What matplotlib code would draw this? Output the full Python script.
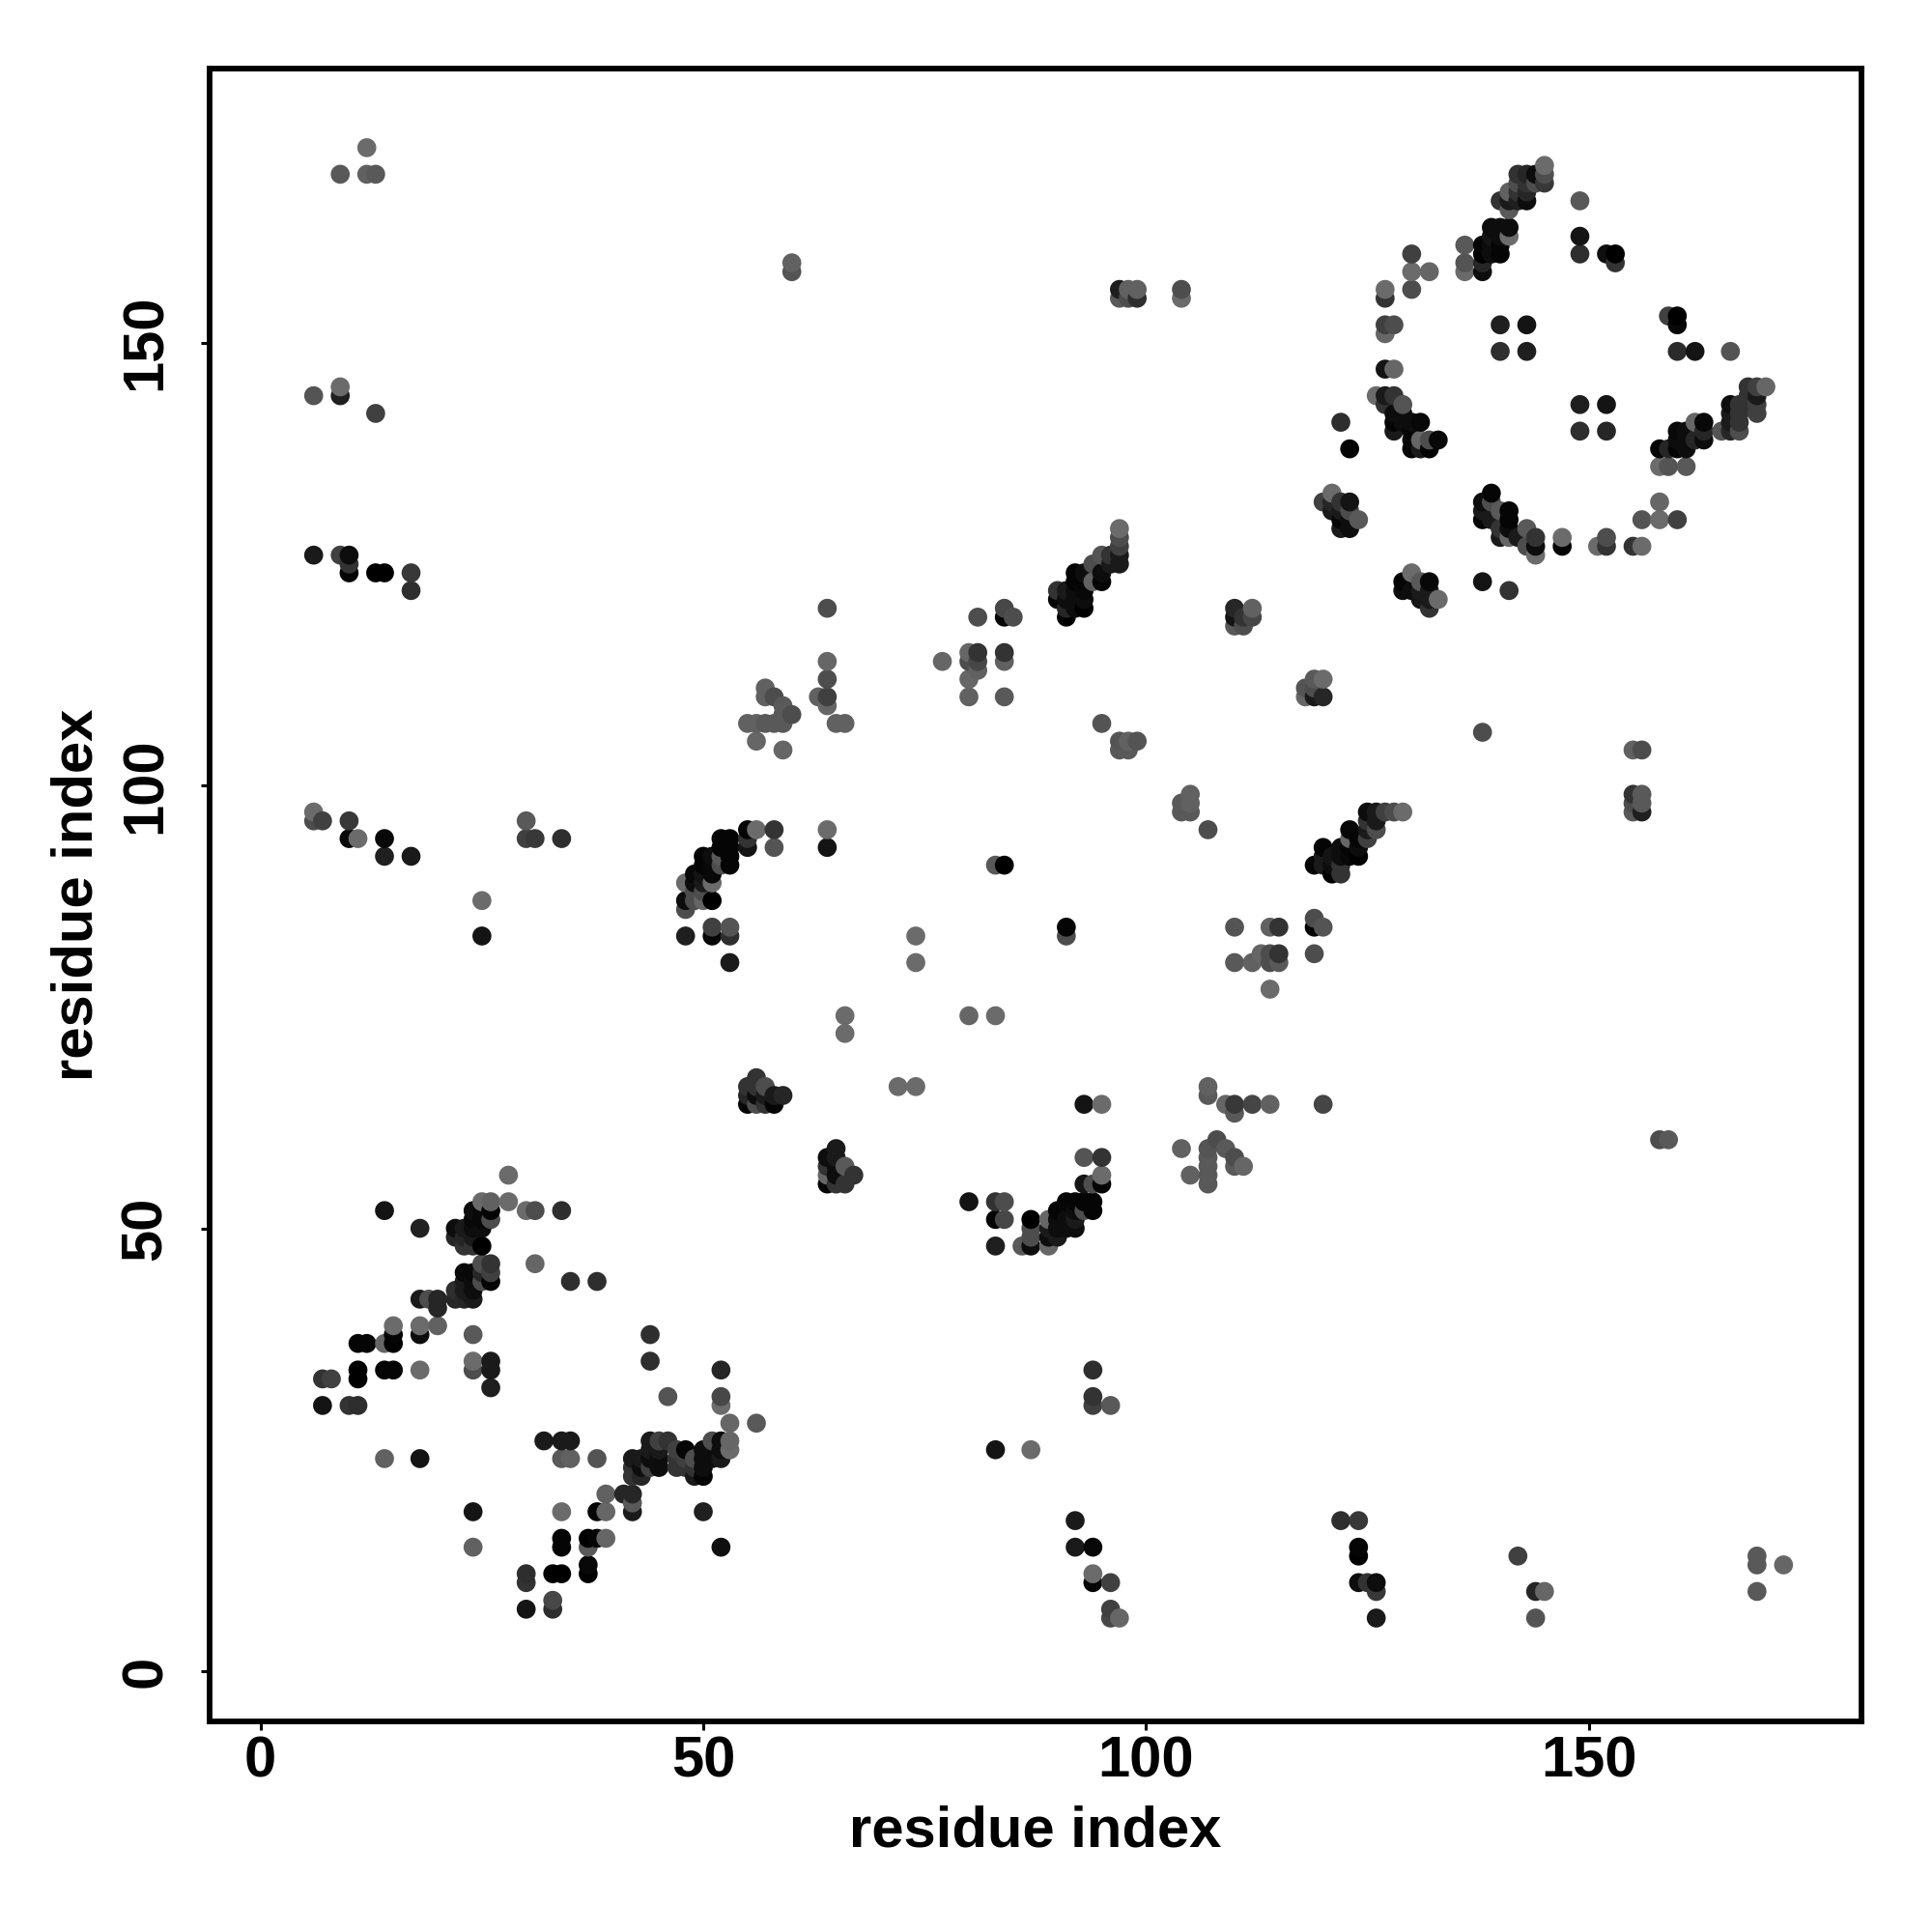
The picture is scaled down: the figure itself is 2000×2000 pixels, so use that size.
import numpy as np
import matplotlib
matplotlib.use("Agg")
import matplotlib.pyplot as plt

# Each region: row y values, x values in each row, grey level (0=black, 1=white) of each point
low_left_y = [56,53,52,51,50,49,48,46,45,44,43,42,41,39,38,37,35,34,33,32,31,30,28,26,25,24,23,22,20,19,18,15,14,12,11,10,8,7]
low_left_x = [[28],[25,26,28],[14,24,25,26,30,31,34],[24,25,26],[18,22,23,24,25],[22,23,24],[23,24,25],[25,26,31],[23,24,25,26],
 [23,24,25,26,35,38],[22,23,24],[18,19,20,22,23,24],[20],[15,18,20],[15,18,24,44],[11,12,14,15],[24,26,44],[11,14,15,18,24,26,52],
 [7,8,11],[26],[46,52],[7,10,11,52],[53,56],[32,34,35,44,45,46,51,52,53],[44,45,47,48,50,51,52,53],
 [14,18,34,35,38,42,43,44,45,47,48,49,50,51,52],[42,43,44,45,47,48,49,50],[42,43,49,50],[39,41,42],[42],[24,34,38,39,42,50],
 [34,37,38,39],[24,34,37,52],[37],[30,33,34,37],[30],[33],[30,33]]
low_left_g = [[.42],[.42,.38,.42],[.08,.05,.03,.02,.42,.3,.18],[.03,.03,.3],[.13,.05,.1,.05,.05],[.15,.15,.1],[.2,.2,.0],[.3,.2,.4],[.03,.03,.15,.25],
 [.1,.05,.3,.02,.18,.18],[.18,.1,.05],[.1,.3,.15,.15,.15,.1],[.15],[.42,.42,.38],[.02,.05,.35,.18],[.02,.02,.4,.0],[.42,.1,.18],[.0,.02,.02,.42,.3,.1,.15],
 [.2,.25,.0],[.12],[.33,.28],[.08,.2,.18,.42],[.4,.35],[.1,.1,.1,.1,.25,.2,.3,.05,.4],[.1,.1,.25,.02,.05,.05,.05,.42],
 [.38,.08,.35,.38,.33,.1,.1,.05,.05,.2,.25,.3,.05,.05,.1],[.2,.05,.25,.05,.2,.2,.2,.05],[.2,.15,.1,.02],[.38,.15,.15],[.35],[.08,.42,.02,.4,.1,.12],
 [.02,.0,.02,.4],[.38,.02,.35,.06],[.03],[.18,.0,.0,.0],[.2],[.28],[.08,.18]]

mid_y = [104,95,94,93,92,91,90,89,88,87,86,84,83,80,74,72,67,66,65,64,59,58,57,56,55,53,52,51,50,49,48]
mid_x = [[59],[55,56,58,64],[52,53,55],[52,53,55,58,64],[50,51,52,53],[50,51,52,53,83,84],[49,50,51],[48,49,50,51],[49,50],[48,49,50,51],[48],
 [51,53,91],[48,51,53,74,91],[53,74],[66,80,83],[66],[56],[55,56,57,72,74],[55,56,57,58,59],[55,56,57,58,93,95],[65],[64,65,93,95],[64,65,66],
 [64,65,67,95],[64,65,66,93,94,95],[80,83,84,91,92,93,94],[90,92,93,94],[83,84,87,89,90,91,92],[87,89,90,91,92],[87,89,90],[83,86,87,89]]
mid_g = [[.4],[.02,.42,.2,.42],[.02,.02,.2],[.02,.02,.08,.33,.08],[.02,.05,.35,.02],[.02,.03,.3,.02,.35,.0],[.03,.08,.03],[.42,.05,.1,.42],[.3,.3],[.05,.3,.4,.0],[.3],
 [.25,.33,.02],[.12,.02,.18,.42,.3],[.1,.42],[.42,.4,.42],[.42],[.2],[.2,.2,.3,.42,.42],[.15,.05,.1,.1,.15],[.02,.3,.2,.02,.08,.42],[.1],[.05,.1,.33,.2],[.2,.05,.35],
 [.4,.05,.2,.42],[.02,.2,.2,.08,.3,.02],[.08,.2,.3,.02,.02,.02,.02],[.02,.05,.3,.02],[.02,.28,.0,.4,.05,.05,.1],[.3,.1,.05,.05,.05],[.3,.05,.1],[.12,.35,.05,.4]]

centre_y = [133,132,131,130,129,128,127,126,125,124,123,122,121,120,119,118,112,111,110,107,106,105,104,99,98,97,96,95,94,93,92,91,90,85,84,81,80,77,141]
centre_x = [[121,139],[120,121,122,123,138,139],[121,122,123,138,140,141],[122,123,124,138,139,141],[97,122,123,140,141,143],[97,140,141,142,144,147],[97,143,144,147],
 [95,96,97,144],[94,96,97],[92,93,95,130],[92,93,94,95,129,131,132,138],[90,91,92,93,129,130,131,132,141],[90,91,92,93,131,132,133],[91,92,93,110,112,132],
 [81,84,85,91,110,111,112],[110,111],[119,120],[118,119],[118,119,120],[95],[138],[97,98,99],[97,98,155,156],[105,155,156],[104,105,155,156],
 [104,105,125,126,127,128,129,155,156],[125,126],[107,123,125,126],[123,124,125],[120,122,123,124],[120,121,122,123,124],[119,120,121,122],[121,122],[119],
 [110,114,115,119,120],[113,114,115,119],[110,112,114,115],[114],[122]]
centre_g = [[.42,.02],[.25,.15,.2,.08,.05,.3],[.1,.1,.3,.1,.35,.02],[.02,.05,.35,.02,.1,.02],[.42,.1,.05,.2,.05,.35],[.3,.1,.4,.1,.2,.42],[.25,.3,.05,.02],
 [.33,.2,.1,.42],[.3,.1,.1],[.02,.05,.05,.42],[.02,.02,.38,.02,.02,.35,.03,.08],[.2,.1,.05,.03,.05,.05,.1,.1,.2],[.02,.05,.05,.05,.08,.1,.42],[.15,.05,.0,.15,.38,.2],
 [.3,.02,.3,.0,.08,.2,.28],[.35,.3],[.35,.42],[.33,.3],[.4,.1,.15],[.33],[.3],[.33,.38,.33],[.35,.35,.38,.3],[.38,.2,.35],[.35,.38,.3,.35],
 [.35,.35,.05,.1,.25,.3,.42,.35,.12],[.2,.1],[.3,.03,.1,.3],[.4,.02,.25],[.02,.05,.02,.05],[.1,.08,.05,.03,.0],[.02,.1,.05,.2],[.0,.2],[.3],
 [.33,.38,.2,.02,.33],[.4,.3,.2,.3],[.35,.38,.3,.35],[.42],[.18]]

upper_y = [170,169,168,167,166,165,163,162,161,160,159,158,156,155,153,152,151,149,147,145,144,143,142,141,140,139,138,136,132,130,128,127]
upper_x = [[145],[142,143,144,145],[142,143,144,145],[141,142,143],[140,141,142,143,149],[141],[139,140,141],[139,140,141,149],[136,138,139,140],
 [130,138,139,140,149,152,153],[136,138,153],[130,132,136,138],[127,130],[127],[159,160],[127,128,140,143,160],[127],[140,143,160,162,166],[127,128],
 [168,169,170],[126,127,128,168,169],[127,129,149,152,166,167,168,169],[128,129,166,167,169],[128,129,130,131,162,163,166,167],
 [128,130,149,152,160,161,163,165,166,167],[130,131,132,133,160,161,162,163],[123,130,131,132,158,159,160,161],[158,159,161],[158],[156,158,160],[152],[151,152,155,156]]
upper_g = [[.42],[.2,.15,.05,.3],[.3,.2,.3,.22],[.38,.2,.15],[.2,.1,.12,.05,.35],[.35],[.05,.05,.05],[.08,.05,.42,.08],[.35,.02,.05,.02],
 [.25,.0,.05,.02,.18,.06,.0],[.33,.15,.2],[.42,.4,.42,.05],[.42,.3],[.2],[.25,.0],[.25,.3,.12,.08,.03],[.4],[.18,.12,.17,.08,.33],[.08,.4],
 [.2,.25,.4],[.42,.1,.2,.2,.1],[.2,.33,.12,.08,.05,.2,.2,.25],[.05,.05,.1,.2,.25],[.02,.05,.05,.03,.4,.03,.1,.2],
 [.1,.02,.18,.15,.03,.05,.15,.33,.15,.3],[.03,.4,.3,.03,.05,.05,.15,.05],[.02,.02,.1,.02,.02,.15,.02,.05],[.42,.33,.35],[.4],[.33,.42,.25],[.3],[.42,.2,.2,.42]]

left_y = [172,169,145,144,142,126,125,124,122,97,96,94,92,87,83]
left_x = [[12],[9,12,13],[9],[6,9],[13],[6,9,10],[10],[10,13,14,17],[17],[6],[6,7,10,30],[10,11,14,30,31,34],[14,17],[25],[25]]
left_g = [[.42],[.35,.38,.35],[.42],[.33,.12],[.25],[.1,.25,.05],[.2],[.02,.0,.0,.22],[.18],[.42],[.3,.25,.22,.35],[.03,.42,.03,.25,.22,.18],[.12,.1],[.42],[.08]]

strip_y = [159,158,156,155,120,115,114,113,112,111,110,109,108,107,105]
strip_x = [[60],[60],[97,98,99,104],[97,98,99,104],[64,84],[80,81,84],[64,77,80,81,84],[81],[64,80],[57],[57,58,63,64,80,84],[59,64],[59,60],[55,56,57,58,59,65,66],[56]]
strip_g = [[.38],[.33],[.12,.38,.38,.3],[.35,.3,.18,.42],[.3,.28],[.4,.2,.2],[.4,.4,.3,.28,.38],[.38],[.3,.4],[.38],[.38,.3,.38,.25,.38,.35],[.35,.4],[.35,.3],[.38,.38,.35,.35,.35,.38,.38],[.4]]

bottom_y = [34,31,30,25,17,14,13,12,11,10,9,7,6,60]
bottom_x = [[94],[94],[94,96],[83,87],[92,122,124],[92,94,124],[124,142,169],[169,172],[94],[94,96,124,125,126],[126,144,145,169],[96],[96,97,126,144],[158,159]]
bottom_g = [[.18],[.2],[.25,.35],[.08,.42],[.1,.18,.22],[.1,.03,.02],[.0,.25,.35],[.35,.4],[.42],[.02,.25,.05,.2,.05],[.22,.15,.4,.35],[.25],[.28,.4,.1,.33],[.3,.35]]

lower_mid_y = [66,65,64,63,60,59,58,57,56,55]
lower_mid_x = [[107],[107],[109,110,112,114,120],[110],[108],[104,107,109],[107,110],[107,110,111],[105,107],[107]]
lower_mid_g = [[.38],[.35],[.4,.22,.27,.38,.27],[.35],[.3],[.38,.33,.35],[.35,.3],[.35,.35,.4],[.38,.35],[.35]]

tick_values = [0, 50, 100, 150]
axis_title = "residue index"

regions = [(low_left_y, low_left_x, low_left_g), (mid_y, mid_x, mid_g), (centre_y, centre_x, centre_g),
           (upper_y, upper_x, upper_g), (left_y, left_x, left_g), (strip_y, strip_x, strip_g),
           (bottom_y, bottom_x, bottom_g), (lower_mid_y, lower_mid_x, lower_mid_g)]
xs, ys, gs = [], [], []
for ry, rx, rg in regions:
    assert len(ry) == len(rx) == len(rg)
    for yv, xrow, grow in zip(ry, rx, rg):
        assert len(xrow) == len(grow), (yv, xrow, grow)
        for xv, gv in zip(xrow, grow):
            xs.append(xv); ys.append(yv); gs.append(gv)
xs, ys, gs = np.array(xs), np.array(ys), np.array(gs)
order = np.lexsort((ys, xs))

plt.rcParams['font.family'] = ['Liberation Sans', 'DejaVu Sans']
plt.rcParams['font.weight'] = 'bold'
fig = plt.figure(figsize=(10, 10), dpi=200, facecolor='white')
ax = fig.add_axes([217/2000, 218/2000, 1710/2000, 1711/2000])
ax.scatter(xs[order], ys[order], s=50, c=[str(g) for g in gs[order]], linewidths=0, clip_on=True, zorder=3)
ax.set_xlim(-5.75, 180.8)
ax.set_ylim(-5.67, 180.93)
for sp in ax.spines.values():
    sp.set_linewidth(2.1)
ax.set_xticks(tick_values)
ax.set_yticks(tick_values)
ax.tick_params(axis='both', length=3.2, width=1.1, labelsize=21.5)
ax.tick_params(axis='x', pad=2)
ax.tick_params(axis='y', pad=10.5)
for t in ax.get_yticklabels():
    t.set_rotation(90)
    t.set_va('center')
ax.set_xlabel(axis_title, fontsize=21.5, fontweight='bold', labelpad=6)
ax.set_ylabel(axis_title, fontsize=21.5, fontweight='bold', labelpad=6)
fig.savefig('out.png', dpi=200)
